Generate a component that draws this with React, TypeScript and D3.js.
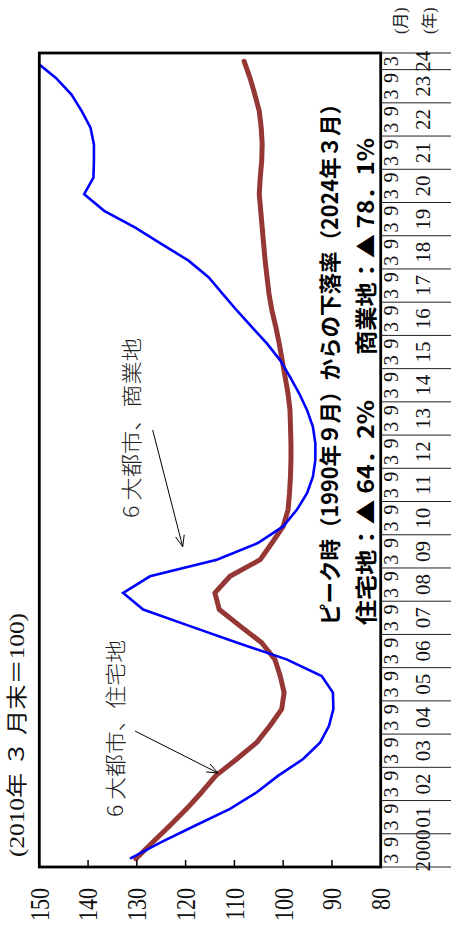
import React from "react";
import * as d3 from "d3";

const periods = [
  "2000/3","2000/9","2001/3","2001/9","2002/3","2002/9","2003/3","2003/9","2004/3","2004/9",
  "2005/3","2005/9","2006/3","2006/9","2007/3","2007/9","2008/3","2008/9","2009/3","2009/9",
  "2010/3","2010/9","2011/3","2011/9","2012/3","2012/9","2013/3","2013/9","2014/3","2014/9",
  "2015/3","2015/9","2016/3","2016/9","2017/3","2017/9","2018/3","2018/9","2019/3","2019/9",
  "2020/3","2020/9","2021/3","2021/9","2022/3","2022/9","2023/3","2023/9","2024/3"
];
const monthLabels = [
  "3","9","3","9","3","9","3","9","3","9","3","9","3","9","3","9","3","9","3","9",
  "3","9","3","9","3","9","3","9","3","9","3","9","3","9","3","9","3","9","3","9",
  "3","9","3","9","3","9","3","9","3"
];
const yearLabels = [
  "2000","01","02","03","04","05","06","07","08","09","10","11","12",
  "13","14","15","16","17","18","19","20","21","22","23","24"
];
// 6大都市 商業地
const commercial = [
  131.4,125.0,118.0,110.9,105.4,101.0,95.9,92.4,90.6,89.7,
  89.8,92.1,99.3,109.4,119.1,128.7,132.8,127.3,113.6,105.2,
  100.0,97.2,95.1,93.9,93.4,93.4,93.9,95.1,96.7,98.6,
  100.6,103.3,106.4,109.5,112.4,115.3,119.4,124.9,130.4,136.7,
  140.8,138.9,138.8,138.8,139.5,141.3,143.4,146.6,150.8
];
// 6大都市 住宅地
const residential = [
  130.2,126.7,123.2,119.8,116.7,113.8,109.5,105.4,102.7,100.3,
  99.8,100.6,101.7,104.4,108.8,113.1,114.0,110.9,104.7,102.3,
  100.0,99.0,98.7,98.5,98.4,98.4,98.5,98.6,99.0,99.6,
  100.2,100.8,101.5,102.3,102.9,103.3,103.7,104.0,104.3,104.6,
  104.9,104.7,104.4,104.3,104.5,104.9,105.8,106.8,108.0
];
const valueTicks = [150, 140, 130, 120, 110, 100, 90, 80];

const W = 933; // unrotated width (screen height)
const H = 451; // unrotated height (screen width)
const plotL = 66, plotR = 880, plotT = 39.3, plotB = 380.7;

const serif = "'Liberation Serif', 'DejaVu Serif', 'Noto Sans CJK JP', serif";
const cjk = "'Noto Sans CJK JP', 'Noto Sans', sans-serif";

export default function App() {
  const x = d3.scaleBand<string>().domain(periods).range([plotL, plotR]).paddingInner(0).paddingOuter(0);
  const bw = x.bandwidth();
  const y = d3.scaleLinear().domain([80, 150]).range([plotB, plotT]);
  const cx = (i: number) => (x(periods[i]) as number) + bw / 2;

  const line = d3.line<number>().x((_, i) => cx(i)).y((v) => y(v));

  const blocks = yearLabels.map((lab, j) => {
    const s = x(periods[2 * j]) as number;
    const e = 2 * j + 1 < periods.length ? (x(periods[2 * j + 1]) as number) + bw : plotR;
    return { lab, s, e };
  });
  const sepLines = [...blocks.map((b) => b.s), plotR];

  const arrowHead = (x1: number, y1: number, x2: number, y2: number, len = 12, ang = 0.38) => {
    const a = Math.atan2(y2 - y1, x2 - x1);
    const p1 = [x2 - len * Math.cos(a - ang), y2 - len * Math.sin(a - ang)];
    const p2 = [x2 - len * Math.cos(a + ang), y2 - len * Math.sin(a + ang)];
    return `M${p1[0]},${p1[1]}L${x2},${y2}L${p2[0]},${p2[1]}`;
  };

  const a1 = { x1: 202, y1: 135, x2: 160, y2: 218 };
  const a2 = { x1: 503, y1: 152.7, x2: 386.3, y2: 182.7 };

  return (
    <svg width={451} height={933} style={{ position: "absolute", left: 0, top: 0, background: "#fff" }}>
      <defs>
        <clipPath id="plotclip">
          <rect x={plotL} y={plotT} width={plotR - plotL} height={plotB - plotT} />
        </clipPath>
      </defs>
      <g transform={`translate(0,${W}) rotate(-90)`}>
        {/* title */}
        <text x={76} y={17} dy="0.35em" fontFamily={serif} fontSize={21} textLength={244} lengthAdjust="spacingAndGlyphs" fill="#111">
          (2010年 ３ 月末＝100)
        </text>

        {/* series */}
        <g clipPath="url(#plotclip)">
          <path d={line(residential) || ""} fill="none" stroke="#953735" strokeWidth={5} strokeLinejoin="round" strokeLinecap="round" />
          <path d={line(commercial) || ""} fill="none" stroke="#0000ff" strokeWidth={2.6} strokeLinejoin="miter" />
        </g>

        {/* frame */}
        <rect x={plotL} y={plotT} width={plotR - plotL} height={plotB - plotT} fill="none" stroke="#000" strokeWidth={2.8} />

        {/* value ticks */}
        {valueTicks.map((v) => (
          <g key={v}>
            <line x1={plotL} x2={plotL + 7} y1={y(v)} y2={y(v)} stroke="#000" strokeWidth={1.5} />
            <g transform={`translate(45,${y(v)}) scale(1,1.22)`}>
              <text textAnchor="end" dy="0.35em" fontFamily={serif} fontSize={22} fill="#111">{v}</text>
            </g>
          </g>
        ))}

        {/* category table */}
        {sepLines.map((s, k) => (
          <line key={k} x1={s} x2={s} y1={plotB} y2={H} stroke="#222" strokeWidth={1} />
        ))}
        {monthLabels.map((m, i) => (
          <text key={i} x={cx(i)} y={391} dy="0.35em" textAnchor="middle" fontFamily={serif} fontSize={20} fill="#111">{m}</text>
        ))}
        {blocks.map((b, j) => (
          <text key={j} x={(b.s + b.e) / 2} y={423} dy="0.35em" textAnchor="middle" fontFamily={serif} fontSize={21} fill="#111">{b.lab}</text>
        ))}
        <text x={899} y={400} dy="0.35em" fontFamily={serif} fontSize={16} fill="#222">(月)</text>
        <text x={899} y={429} dy="0.35em" fontFamily={serif} fontSize={16} fill="#222">(年)</text>

        {/* annotations */}
        <text x={116} y={116} dy="0.35em" fontFamily={cjk} fontSize={21} fontWeight={300} textLength={177} lengthAdjust="spacingAndGlyphs" fill="#222">6 大都市、住宅地</text>
        <line x1={a1.x1} y1={a1.y1} x2={a1.x2} y2={a1.y2} stroke="#000" strokeWidth={1} />
        <path d={arrowHead(a1.x1, a1.y1, a1.x2, a1.y2)} fill="none" stroke="#000" strokeWidth={1} />

        <text x={415} y={132} dy="0.35em" fontFamily={cjk} fontSize={21} fontWeight={300} textLength={180} lengthAdjust="spacingAndGlyphs" fill="#222">6 大都市、商業地</text>
        <line x1={a2.x1} y1={a2.y1} x2={a2.x2} y2={a2.y2} stroke="#000" strokeWidth={1} />
        <path d={arrowHead(a2.x1, a2.y1, a2.x2, a2.y2)} fill="none" stroke="#000" strokeWidth={1} />

        <text x={308} y={330} dy="0.35em" fontFamily={cjk} fontSize={22} fontWeight={700} textLength={532} lengthAdjust="spacingAndGlyphs" fill="#000">ピーク時（1990年９月）からの下落率（2024年３月）</text>
        <text x={308} y={366} dy="0.35em" fontFamily={cjk} fontSize={22} fontWeight={700} textLength={225} lengthAdjust="spacingAndGlyphs" fill="#000">住宅地：▲ 64．2%</text>
        <text x={578} y={366} dy="0.35em" fontFamily={cjk} fontSize={22} fontWeight={700} textLength={217} lengthAdjust="spacingAndGlyphs" fill="#000">商業地：▲ 78．1%</text>
      </g>
    </svg>
  );
}
